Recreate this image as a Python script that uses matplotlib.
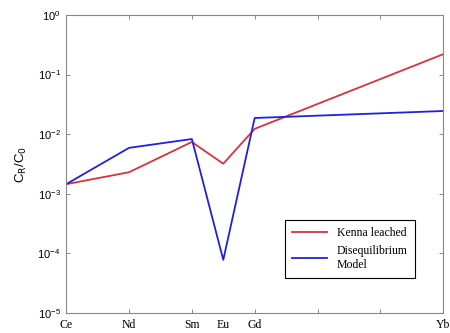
import numpy as np
import matplotlib
matplotlib.use('Agg')
import matplotlib.pyplot as plt

# REE positions by atomic number
elements = ['Ce', 'Nd', 'Sm', 'Eu', 'Gd', 'Yb']
atomic_no = [58, 60, 62, 63, 64, 70]

kenna_leached = [1.45e-3, 2.3e-3, 7.4e-3, 3.2e-3, 1.23e-2, 2.2e-1]
diseq_model = [1.45e-3, 5.9e-3, 8.3e-3, 7.8e-5, 1.87e-2, 2.45e-2]

fig = plt.figure(figsize=(4.5, 3.33), dpi=100)
ax = fig.add_axes([0.147, 0.060, 0.838, 0.895])

ax.plot(atomic_no, kenna_leached, color='#d8323c', lw=1.3, label='Kenna leached')
ax.plot(atomic_no, diseq_model, color='#2020e0', lw=1.3, label='Disequilibrium\nModel')

ax.set_yscale('log')
ax.set_ylim(1e-5, 1)
ax.set_xlim(58, 70)
ax.yaxis.set_minor_locator(matplotlib.ticker.NullLocator())

ax.set_xticks([58, 60, 62, 64, 66, 68, 70])
ax.set_xticklabels(['Ce', 'Nd', 'Sm', 'Gd', '', '', 'Yb'], family='Liberation Serif', fontsize=8.5)
ax.set_xticks([63], minor=True)
ax.set_xticklabels(['Eu'], minor=True, family='Liberation Serif', fontsize=8.5)
ax.tick_params(axis='x', which='minor', length=0, pad=4)
ax.tick_params(which='major', direction='in', length=3, width=0.6, color='#777777',
               top=True, right=True, labelsize=8, pad=4)
ax.tick_params(axis='x', which='major', labelsize=8.5)
for lbl in ax.get_yticklabels():
    lbl.set_family('Liberation Sans')

for s in ax.spines.values():
    s.set_color('#888888')
    s.set_linewidth(0.8)

ax.set_ylabel('C$_\\mathrm{R}$/C$_\\mathrm{0}$', family='Liberation Sans', fontsize=9.5, labelpad=6)

leg = ax.legend(loc='lower right', bbox_to_anchor=(0.94, 0.098),
                prop={'family': 'Liberation Serif', 'size': 8.5},
                fancybox=False, framealpha=1, edgecolor='black',
                handlelength=3.0, labelspacing=0.5, borderpad=0.6)
leg.get_frame().set_linewidth(0.8)

fig.savefig('out.png', dpi=100)
